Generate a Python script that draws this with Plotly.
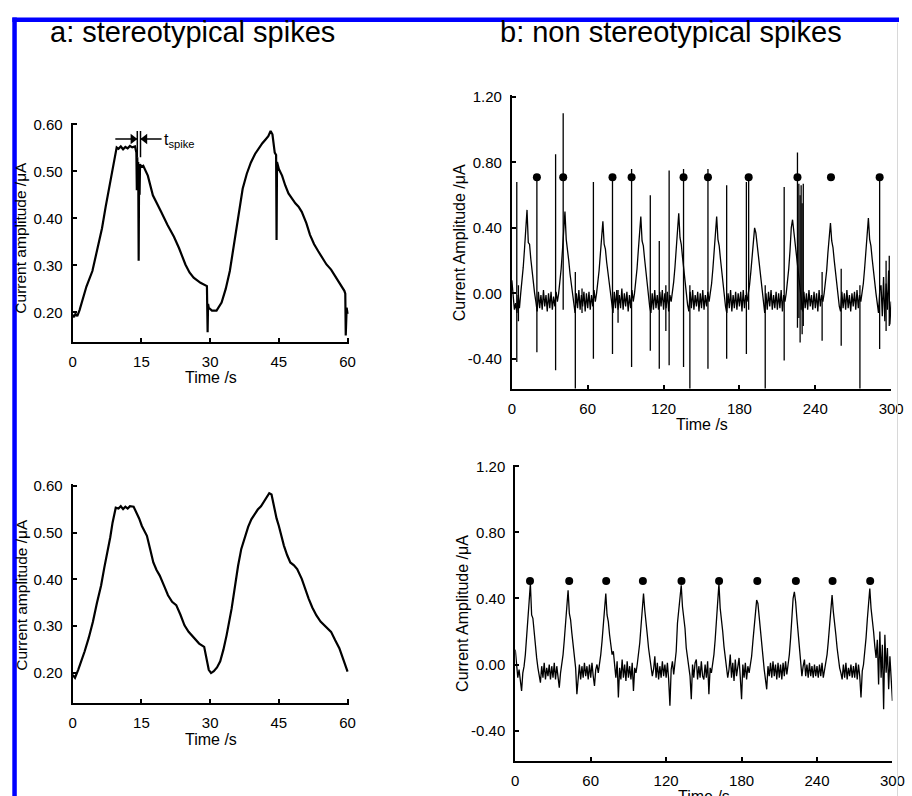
import plotly.graph_objects as go

W, H = 912, 796
FONT = "Liberation Sans, Arial, sans-serif"

# ---------------- data ----------------
# panel a (top): stereotypical trace with spikes (time s, current uA)
A1_T = [0, 0.3, 0.6, 1.0, 1.5, 2.1, 3.0, 4.3, 5.3, 6.4, 7.2, 7.9, 8.4, 8.9, 9.3, 9.6, 10.0, 10.5, 11.0, 11.5,
        12.0, 12.5, 13.0, 13.6, 13.9, 14.0, 14.1, 14.2, 14.3, 14.4, 14.5, 14.6, 14.7, 15.0, 15.4, 16.4, 17.5, 18.4, 19.3, 20.7,
        22.1, 23.2, 24.6, 25.5, 26.4, 27.9, 29.0, 29.3, 29.45, 29.55, 29.7, 30.4, 31.4, 32.5, 33.4, 34.3, 35.0, 35.7, 36.4, 37.1,
        38.0, 38.9, 39.8, 40.7, 41.4, 42.1, 42.7, 43.2, 43.6, 44.1, 44.4, 44.5, 44.6, 45.0, 45.7, 46.4, 47.1, 48.6, 49.3, 50.0,
        51.0, 51.8, 52.7, 53.6, 54.5, 55.4, 56.4, 57.1, 57.9, 58.6, 59.3, 59.5, 59.6, 59.8, 60.0]
A1_V = [0.195, 0.190, 0.197, 0.192, 0.205, 0.225, 0.255, 0.288, 0.330, 0.379, 0.425, 0.463, 0.490, 0.519, 0.540, 0.551, 0.548, 0.553, 0.547, 0.552,
        0.549, 0.554, 0.551, 0.553, 0.540, 0.460, 0.530, 0.470, 0.520, 0.310, 0.510, 0.450, 0.515, 0.510, 0.512, 0.491, 0.449, 0.430, 0.414, 0.386,
        0.361, 0.337, 0.302, 0.285, 0.274, 0.263, 0.258, 0.256, 0.158, 0.218, 0.210, 0.204, 0.204, 0.221, 0.250, 0.288, 0.330, 0.379, 0.420, 0.463,
        0.495, 0.519, 0.537, 0.551, 0.560, 0.568, 0.575, 0.586, 0.579, 0.540, 0.535, 0.354, 0.520, 0.505, 0.491, 0.470, 0.453, 0.432, 0.425, 0.414,
        0.390, 0.365, 0.345, 0.330, 0.315, 0.302, 0.291, 0.280, 0.267, 0.258, 0.246, 0.240, 0.151, 0.210, 0.197]

# panel a (bottom): stereotypical trace without spikes
A2_T = [0, 0.5, 1.2, 1.9, 2.6, 3.5, 4.4, 5.3, 6.2, 6.9, 7.6, 8.2, 8.7, 9.4, 10.0, 10.5, 11.0, 11.5, 12.0, 12.5,
        13.3, 14.0, 14.5, 15.1, 16.2, 16.9, 17.6, 18.3, 19.0, 20.0, 20.8, 21.7, 22.6, 23.5, 24.4, 25.3, 26.2, 27.6, 28.7, 29.7,
        30.2, 30.8, 31.5, 32.2, 32.9, 33.6, 34.7, 35.4, 36.1, 36.8, 37.6, 38.3, 39.0, 39.7, 40.4, 41.1, 41.8, 42.4, 42.9, 43.4,
        44.0, 44.5, 45.0, 45.5, 46.1, 46.8, 47.5, 48.3, 49.0, 50.0, 50.7, 51.5, 52.3, 53.2, 54.1, 55.0, 55.7, 56.4, 57.3, 58.2,
        59.1, 60.0]
A2_V = [0.196, 0.190, 0.207, 0.225, 0.246, 0.275, 0.309, 0.350, 0.387, 0.425, 0.458, 0.490, 0.521, 0.553, 0.551, 0.556, 0.550, 0.555, 0.551, 0.556,
        0.555, 0.542, 0.530, 0.514, 0.493, 0.465, 0.436, 0.420, 0.408, 0.385, 0.366, 0.352, 0.345, 0.325, 0.302, 0.288, 0.278, 0.263, 0.256, 0.207,
        0.200, 0.204, 0.212, 0.225, 0.250, 0.281, 0.338, 0.385, 0.429, 0.465, 0.493, 0.512, 0.528, 0.540, 0.549, 0.556, 0.567, 0.575, 0.584, 0.581,
        0.549, 0.530, 0.514, 0.495, 0.472, 0.452, 0.436, 0.430, 0.422, 0.401, 0.380, 0.359, 0.340, 0.323, 0.310, 0.302, 0.296, 0.288, 0.270, 0.253,
        0.228, 0.203]

# t_spike marker (s), arrow tails (s) and arrow level (uA)
TSPIKE_EDGES = [14.1, 14.8]
TSPIKE_ARROW_TAILS = [9.3, 19.4]
TSPIKE_ARROW_Y = 0.569

# panel b (top): sampled every 1 s, 0..300 s
B1_V = [
    0.08, -0.02, -0.10, -0.06, -0.12, -0.01, -0.09, 0.00, 0.07, 0.16,
    0.27, 0.40, 0.51, 0.31, 0.30, 0.21, 0.13, 0.06, 0.00, -0.05,
    -0.11, 0.01, -0.09, -0.01, -0.10, 0.02, -0.08, -0.01, -0.11, 0.00,
    -0.09, 0.01, -0.10, -0.02, -0.08, 0.01, -0.05, 0.00, 0.06, 0.15,
    0.26, 0.38, 0.50, 0.33, 0.28, 0.20, 0.12, 0.05, -0.01, -0.08,
    -0.12, 0.00, -0.09, 0.02, -0.10, -0.01, -0.08, 0.01, -0.11, 0.00,
    -0.09, 0.01, -0.10, -0.01, -0.08, 0.02, -0.05, 0.00, 0.06, 0.14,
    0.24, 0.35, 0.44, 0.30, 0.27, 0.19, 0.12, 0.05, -0.02, -0.09,
    -0.12, 0.01, -0.09, 0.02, -0.10, -0.01, -0.09, 0.03, -0.10, 0.00,
    -0.08, 0.01, -0.11, -0.01, -0.09, 0.02, -0.05, 0.00, 0.06, 0.15,
    0.26, 0.37, 0.47, 0.32, 0.29, 0.21, 0.13, 0.06, 0.00, -0.08,
    -0.12, 0.00, -0.10, 0.02, -0.09, -0.01, -0.10, 0.01, -0.08, 0.02,
    -0.10, 0.00, -0.09, 0.01, -0.11, -0.01, -0.05, 0.00, 0.07, 0.16,
    0.27, 0.39, 0.49, 0.34, 0.30, 0.22, 0.14, 0.06, 0.00, -0.07,
    -0.11, 0.01, -0.09, 0.02, -0.10, -0.01, -0.08, 0.01, -0.11, 0.00,
    -0.09, 0.02, -0.10, -0.01, -0.08, 0.01, -0.05, 0.00, 0.06, 0.15,
    0.26, 0.37, 0.47, 0.33, 0.29, 0.21, 0.13, 0.06, 0.00, -0.08,
    -0.12, 0.00, -0.09, 0.02, -0.11, -0.01, -0.09, 0.01, -0.10, 0.00,
    -0.08, 0.01, -0.11, 0.02, -0.09, -0.01, -0.05, 0.00, 0.05, 0.13,
    0.22, 0.33, 0.40, 0.37, 0.30, 0.20, 0.12, 0.05, -0.01, -0.08,
    -0.12, 0.00, -0.10, 0.01, -0.08, 0.02, -0.10, -0.01, -0.09, 0.01,
    -0.10, 0.00, -0.09, 0.02, -0.11, -0.01, -0.05, 0.00, 0.06, 0.15,
    0.26, 0.40, 0.45, 0.38, 0.30, 0.22, 0.13, 0.06, 0.00, -0.07,
    -0.11, 0.01, -0.09, 0.00, -0.10, 0.02, -0.08, -0.01, -0.10, 0.01,
    -0.09, 0.00, -0.11, 0.02, -0.08, -0.01, -0.05, 0.00, 0.06, 0.14,
    0.25, 0.35, 0.43, 0.32, 0.28, 0.20, 0.12, 0.05, -0.01, -0.08,
    -0.11, 0.01, -0.09, 0.00, -0.10, 0.02, -0.09, -0.01, -0.11, 0.00,
    -0.08, 0.01, -0.10, 0.02, -0.09, -0.01, -0.05, 0.00, 0.06, 0.15,
    0.26, 0.38, 0.46, 0.33, 0.29, 0.21, 0.13, 0.06, 0.00, -0.06,
    -0.12, 0.02, 0.05, -0.14, 0.10, -0.17, 0.06, -0.10, 0.14, -0.19,
    -0.05]
B1_T = list(range(len(B1_V)))

# isolated spikes in panel b (top): time, upper tip, lower tip
B1_SPIKE_T = [3.9, 5.2, 19.8, 34.6, 40.6, 50.2, 55.5, 64.5, 79.6, 84.0, 94.7, 109.5, 116.6, 121.8, 124.4, 135.8,
              140.8, 155.1, 169.9, 185.5, 187.3, 200.4, 215.4, 225.9, 227.0, 228.0, 228.8, 229.6, 230.5, 245.4,
              260.5, 275.3, 290.9, 296.0, 298.5]
B1_SPIKE_HI = [0.68, 0.05, 0.72, 0.85, 1.10, 0.13, 0.03, 0.68, 0.72, 0.02, 0.76, 0.60, 0.32, 0.05, 0.75, 0.76,
               0.05, 0.76, 0.66, 0.68, 0.72, 0.05, 0.65, 0.86, 0.67, 0.60, 0.66, 0.55, 0.67, 0.13,
               0.15, 0.05, 0.72, 0.20, 0.23]
B1_SPIKE_LO = [-0.42, -0.17, -0.36, -0.47, -0.10, -0.60, -0.12, -0.40, -0.37, -0.18, -0.45, -0.35, -0.46, -0.23, -0.44, -0.45,
               -0.60, -0.46, -0.40, -0.37, -0.10, -0.60, -0.41, -0.21, -0.15, -0.30, -0.10, -0.25, -0.20, -0.29,
               -0.32, -0.60, -0.34, -0.23, -0.20]
B1_DOT_T = [19.8, 40.6, 79.6, 94.7, 135.8, 155.1, 187.3, 225.9, 252.4, 290.9]
B1_DOT_Y = 0.71

# panel b (bottom): sampled every 1 s, 0..300 s
B2_V = [
    0.09, 0.02, -0.08, -0.03, -0.10, -0.16, -0.05, -0.01, 0.06, 0.15,
    0.27, 0.38, 0.49, 0.30, 0.28, 0.19, 0.11, 0.04, -0.02, -0.08,
    -0.11, -0.01, -0.08, 0.01, -0.09, -0.02, -0.07, 0.00, -0.09, -0.01,
    -0.08, 0.01, -0.09, -0.01, -0.07, -0.14, -0.05, 0.00, 0.06, 0.15,
    0.25, 0.36, 0.45, 0.31, 0.27, 0.19, 0.11, 0.04, -0.02, -0.18,
    -0.08, 0.00, -0.09, -0.01, -0.08, 0.01, -0.07, -0.01, -0.09, 0.00,
    -0.08, 0.01, -0.07, -0.13, -0.03, 0.00, -0.05, 0.00, 0.06, 0.14,
    0.24, 0.34, 0.43, 0.30, 0.26, 0.18, 0.10, 0.06, 0.08, -0.02,
    -0.08, 0.02, -0.20, -0.02, -0.09, 0.03, -0.08, 0.00, -0.10, 0.02,
    -0.08, -0.01, -0.09, 0.01, -0.16, -0.02, -0.05, 0.00, 0.05, 0.13,
    0.23, 0.35, 0.43, 0.33, 0.27, 0.18, 0.10, 0.04, -0.02, -0.07,
    -0.03, 0.05, -0.08, 0.01, -0.09, -0.01, -0.08, 0.02, -0.07, 0.00,
    -0.08, 0.01, -0.09, -0.25, -0.03, 0.02, -0.06, 0.00, 0.08, 0.25,
    0.33, 0.40, 0.48, 0.35, 0.30, 0.22, 0.10, 0.04, -0.02, -0.07,
    -0.21, 0.00, -0.08, 0.01, 0.03, -0.09, -0.01, -0.08, 0.02, -0.07,
    -0.09, 0.00, -0.08, 0.02, -0.18, -0.02, -0.05, 0.00, 0.06, 0.15,
    0.26, 0.38, 0.49, 0.34, 0.28, 0.20, 0.11, 0.04, -0.02, -0.08,
    -0.03, 0.06, -0.08, 0.01, -0.10, 0.03, -0.07, -0.01, 0.04, -0.08,
    -0.21, 0.00, -0.08, 0.01, -0.09, -0.01, -0.05, 0.00, 0.05, 0.14,
    0.24, 0.34, 0.39, 0.37, 0.29, 0.19, 0.10, 0.03, -0.03, -0.09,
    -0.15, -0.01, -0.07, 0.01, -0.08, 0.02, -0.07, 0.00, -0.09, 0.01,
    -0.08, 0.00, -0.09, 0.01, -0.07, 0.02, -0.06, 0.00, 0.06, 0.16,
    0.27, 0.40, 0.44, 0.38, 0.28, 0.19, 0.10, 0.04, -0.07, -0.01,
    0.03, -0.07, 0.00, -0.08, 0.01, -0.07, -0.01, -0.08, 0.00, -0.07,
    -0.01, -0.08, 0.00, -0.07, 0.01, -0.08, -0.04, 0.00, 0.06, 0.14,
    0.24, 0.35, 0.42, 0.32, 0.26, 0.18, 0.10, 0.03, -0.02, -0.05,
    -0.09, 0.00, -0.08, 0.01, -0.09, -0.02, -0.07, 0.00, -0.08, -0.01,
    -0.08, 0.01, -0.09, 0.00, -0.07, -0.20, -0.04, 0.00, 0.07, 0.16,
    0.27, 0.38, 0.46, 0.34, 0.28, 0.20, 0.11, 0.04, 0.15, -0.12,
    0.20, -0.08, 0.12, -0.27, 0.18, -0.05, 0.10, -0.15, 0.05, -0.08,
    -0.22]
B2_T = list(range(len(B2_V)))
B2_DOT_T = [11.7, 42.9, 72.3, 101.5, 132.2, 162.1, 192.5, 223.2, 252.4, 282.3]
B2_DOT_Y = 0.505

A_XTICKS = [0, 15, 30, 45, 60]
A_YTICKS = [0.20, 0.30, 0.40, 0.50, 0.60]
B_XTICKS = [0, 60, 120, 180, 240, 300]
B_YTICKS = [-0.40, 0.00, 0.40, 0.80, 1.20]

# ---------------- layout helpers ----------------
def px(x):
    return x / W

def py(y):
    return 1 - y / H

A_XDOM_PX = (70, 351.5)
A_XRANGE = [0, 60.3]
A_PX_PER_S = (A_XDOM_PX[1] - A_XDOM_PX[0]) / (A_XRANGE[1] - A_XRANGE[0])

fig = go.Figure()

fig.add_trace(go.Scatter(x=A1_T, y=A1_V, mode="lines", line=dict(color="black", width=2.2),
                         xaxis="x", yaxis="y", showlegend=False, hoverinfo="skip"))
fig.add_trace(go.Scatter(x=A2_T, y=A2_V, mode="lines", line=dict(color="black", width=2.2),
                         xaxis="x3", yaxis="y3", showlegend=False, hoverinfo="skip"))

# t_spike dimension arrows: shafts + heads whose tips touch the marker edges
head_px = 4.5
fig.add_trace(go.Scatter(
    x=[TSPIKE_ARROW_TAILS[0], TSPIKE_EDGES[0], None, TSPIKE_ARROW_TAILS[1], TSPIKE_EDGES[1]],
    y=[TSPIKE_ARROW_Y, TSPIKE_ARROW_Y, None, TSPIKE_ARROW_Y, TSPIKE_ARROW_Y],
    mode="lines", line=dict(color="black", width=1.6), xaxis="x", yaxis="y",
    showlegend=False, hoverinfo="skip"))
fig.add_trace(go.Scatter(
    x=[TSPIKE_EDGES[0] - head_px / A_PX_PER_S, TSPIKE_EDGES[1] + head_px / A_PX_PER_S],
    y=[TSPIKE_ARROW_Y, TSPIKE_ARROW_Y], mode="markers",
    marker=dict(symbol=["triangle-right", "triangle-left"], size=9, color="black", line=dict(width=0)),
    xaxis="x", yaxis="y", showlegend=False, hoverinfo="skip"))

fig.add_trace(go.Scatter(x=B1_T, y=B1_V, mode="lines", line=dict(color="black", width=1.3),
                         xaxis="x2", yaxis="y2", showlegend=False, hoverinfo="skip"))
sx, sy = [], []
for t, hi, lo in zip(B1_SPIKE_T, B1_SPIKE_HI, B1_SPIKE_LO):
    sx += [t, t, None]
    sy += [hi, lo, None]
fig.add_trace(go.Scatter(x=sx, y=sy, mode="lines", line=dict(color="black", width=1.3),
                         xaxis="x2", yaxis="y2", showlegend=False, hoverinfo="skip"))
fig.add_trace(go.Scatter(x=B1_DOT_T, y=[B1_DOT_Y] * len(B1_DOT_T), mode="markers",
                         marker=dict(color="black", size=8), xaxis="x2", yaxis="y2",
                         showlegend=False, hoverinfo="skip"))

fig.add_trace(go.Scatter(x=B2_T, y=B2_V, mode="lines", line=dict(color="black", width=1.3),
                         xaxis="x4", yaxis="y4", showlegend=False, hoverinfo="skip"))
fig.add_trace(go.Scatter(x=B2_DOT_T, y=[B2_DOT_Y] * len(B2_DOT_T), mode="markers",
                         marker=dict(color="black", size=8), xaxis="x4", yaxis="y4",
                         showlegend=False, hoverinfo="skip"))

def axis(domain, rng, ticks, anchor, labels):
    return dict(domain=domain, range=rng, anchor=anchor, showline=True, linecolor="black", linewidth=2,
                ticks="inside", ticklen=4, tickwidth=2, tickcolor="black", showgrid=False, zeroline=False,
                tickvals=ticks, ticktext=labels, ticklabelstandoff=5,
                tickfont=dict(family=FONT, size=15, color="black"), fixedrange=True)

a_xl = [str(v) for v in A_XTICKS]
a_yl = ["%.2f" % v for v in A_YTICKS]
b_xl = [str(v) for v in B_XTICKS]
b_yl = ["%.2f" % v for v in B_YTICKS]

fig.update_layout(
    width=W, height=H, margin=dict(l=0, r=0, t=0, b=0, pad=0),
    paper_bgcolor="white", plot_bgcolor="white",
    xaxis=axis([px(A_XDOM_PX[0]), px(A_XDOM_PX[1])], A_XRANGE, A_XTICKS, "y", a_xl),
    yaxis=axis([py(338), py(117)], [0.137, 0.603], A_YTICKS, "x", a_yl),
    xaxis2=axis([px(517.5), px(904)], [0, 300], B_XTICKS, "y2", b_xl),
    yaxis2=axis([py(385), py(88.3)], [-0.582, 1.215], B_YTICKS, "x2", b_yl),
    xaxis3=axis([px(A_XDOM_PX[0]), px(A_XDOM_PX[1])], A_XRANGE, A_XTICKS, "y3", a_xl),
    yaxis3=axis([py(702), py(481)], [0.1365, 0.604], A_YTICKS, "x3", a_yl),
    xaxis4=axis([px(521), px(905.3)], [0, 300], B_XTICKS, "y4", b_xl),
    yaxis4=axis([py(760.7), py(461.7)], [-0.584, 1.21], B_YTICKS, "x4", b_yl),
)

ann = []
def text_ann(x, y, text, size, angle=0):
    ann.append(dict(x=px(x), y=py(y), xref="paper", yref="paper", text=text, showarrow=False,
                    xanchor="center", yanchor="middle", textangle=angle,
                    font=dict(family=FONT, size=size, color="black")))

text_ann(192.5, 25, "a: stereotypical spikes", 29)
text_ann(679.5, 25, "b: non stereotypical spikes", 29)
text_ann(17, 233, "Current amplitude /μA", 15.5, -90)
text_ann(18.3, 593, "Current amplitude /μA", 15.5, -90)
text_ann(465, 238, "Current Amplitude /μA", 16, -90)
text_ann(467, 612, "Current Amplitude /μA", 16, -90)
text_ann(211, 374, "Time /s", 16)
text_ann(211, 739, "Time /s", 16)
text_ann(711, 421, "Time /s", 16)
text_ann(713, 797, "Time /s", 16)

ann.append(dict(x=TSPIKE_ARROW_TAILS[1] + 0.1, y=0.566, xref="x", yref="y", text="t<sub>spike</sub>",
                showarrow=False, xanchor="left", yanchor="middle",
                font=dict(family=FONT, size=16, color="black")))

shapes = []
for e in TSPIKE_EDGES:
    shapes.append(dict(type="line", xref="x", yref="y", x0=e, x1=e, y0=0.530, y1=0.586,
                       line=dict(color="black", width=1.5)))
# blue frame (top & left) and faint right edge
shapes.append(dict(type="line", xref="paper", yref="paper", x0=px(8.5), x1=1.0, y0=py(12.75), y1=py(12.75),
                   line=dict(color="#0000ff", width=4.5)))
shapes.append(dict(type="line", xref="paper", yref="paper", x0=px(10.75), x1=px(10.75), y0=py(10.5), y1=0,
                   line=dict(color="#0000ff", width=4.5)))
shapes.append(dict(type="line", xref="paper", yref="paper", x0=px(910.5), x1=px(910.5), y0=py(16), y1=0,
                   line=dict(color="#d8d8d8", width=1)))

fig.update_layout(annotations=ann, shapes=shapes)
fig.write_html("out.html", config={"displayModeBar": False, "staticPlot": True},
               post_script="document.body.style.margin='0px';document.body.style.overflow='hidden';")
